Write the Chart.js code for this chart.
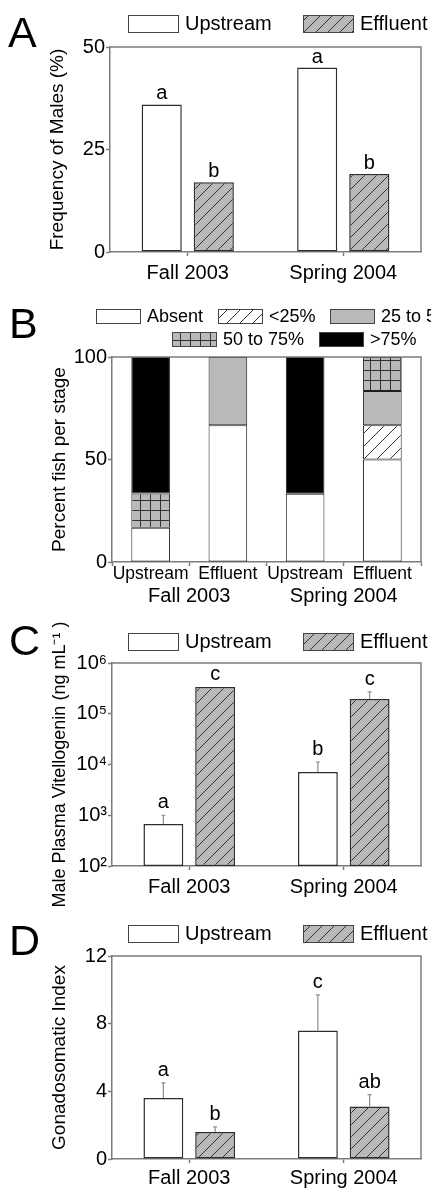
<!DOCTYPE html>
<html>
<head>
<meta charset="utf-8">
<script src="https://cdn.jsdelivr.net/npm/chart.js@4.4.1/dist/chart.umd.min.js"></script>
<style>
  html, body { margin: 0; padding: 0; background: #fff; }
  #fig { position: relative; width: 431px; height: 1194px; overflow: hidden; background: #fff; }
  #fig canvas { position: absolute; left: 0; }
</style>
</head>
<body>
<div id="fig"></div>
<script>
// ---- data ----
const seasons = ['Fall 2003', 'Spring 2004'];
const sites = ['Upstream', 'Effluent'];

// A: frequency of males (%)
const malesUpstream = [36, 45];
const malesEffluent = [17, 19];
const malesLettersUp = ['a', 'a'];
const malesLettersEff = ['b', 'b'];
const malesTicks = [0, 25, 50];

// B: percent fish per stage
const stageSites = ['Upstream', 'Effluent', 'Upstream', 'Effluent'];
const stageNames = ['Absent', '<25%', '25 to 50%', '50 to 75%', '>75%'];
const stageAbsent = [16.7, 66.7, 33.3, 50];
const stageUnder25 = [0, 0, 0, 16.7];
const stage25to50 = [0, 33.3, 0, 16.7];
const stage50to75 = [16.7, 0, 0, 16.6];
const stageOver75 = [66.6, 0, 66.7, 0];
const stageTicks = [0, 50, 100];

// C: male plasma vitellogenin (ng/mL), log axis
const vtgUpstream = [670, 7100];
const vtgUpstreamErr = [330, 4100];
const vtgEffluent = [335000, 195000];
const vtgEffluentErr = [0, 75000];
const vtgLettersUp = ['a', 'b'];
const vtgLettersEff = ['c', 'c'];
const vtgTickExponents = [2, 3, 4, 5, 6];

// D: gonadosomatic index
const gsiUpstream = [3.6, 7.6];
const gsiUpstreamErr = [0.9, 2.1];
const gsiEffluent = [1.6, 3.1];
const gsiEffluentErr = [0.3, 0.7];
const gsiLettersUp = ['a', 'c'];
const gsiLettersEff = ['b', 'ab'];
const gsiTicks = [0, 4, 8, 12];

// ---- styling ----
const FONT = '"Liberation Sans", Arial, Helvetica, sans-serif';
const AXIS = '#7c7c7c';
const EDGE = '#2e2e2e';
const GRAY = '#b9b9b9';
const ERR = '#8c8c8c';
const W = 431;
const SUP = {2: '\u00B2', 3: '\u00B3', 4: '\u2074', 5: '\u2075', 6: '\u2076'};

const fig = document.getElementById('fig');

function hatch(bg, line, size, cross) {
  const c = document.createElement('canvas');
  c.width = size; c.height = size;
  const g = c.getContext('2d');
  g.fillStyle = bg;
  g.fillRect(0, 0, size, size);
  g.strokeStyle = line;
  g.lineWidth = 1;
  g.beginPath();
  if (cross) {
    g.moveTo(0, 0.5); g.lineTo(size, 0.5);
    g.moveTo(0.5, 0); g.lineTo(0.5, size);
  } else {
    for (const k of [-size, 0, size]) { g.moveTo(k, size); g.lineTo(k + size, 0); }
  }
  g.stroke();
  return g.createPattern(c, 'repeat');
}

const effluentFill = hatch(GRAY, '#333', 12, false);
const lightHatch = hatch('#fff', '#333', 13, false);
const gridFill = hatch(GRAY, '#333', 10, true);

function addCanvas(top, height) {
  const c = document.createElement('canvas');
  c.width = W; c.height = height;
  c.style.top = top + 'px';
  c.style.width = W + 'px';
  c.style.height = height + 'px';
  fig.appendChild(c);
  return c;
}

// panel letter, legend swatches and the closed frame
function decorPlugin(p) {
  return {
    id: 'decor',
    afterDraw(chart) {
      const {ctx, chartArea: a} = chart;
      ctx.save();
      ctx.strokeStyle = AXIS;
      ctx.lineWidth = 1.5;
      ctx.beginPath();
      ctx.moveTo(a.left, a.top);
      ctx.lineTo(a.right, a.top);
      ctx.lineTo(a.right, a.bottom);
      ctx.stroke();

      ctx.fillStyle = '#000';
      ctx.font = '43px ' + FONT;
      ctx.textBaseline = 'alphabetic';
      ctx.textAlign = 'left';
      ctx.fillText(p.letter, p.letterAt[0], p.letterAt[1] - p.top);

      ctx.font = p.legendFont + 'px ' + FONT;
      ctx.textBaseline = 'middle';
      p.legend.forEach(item => {
        const ds = chart.data.datasets[item.ds];
        const y = item.y - p.top;
        ctx.fillStyle = ds.backgroundColor;
        ctx.fillRect(item.x, y, p.box[0], p.box[1]);
        ctx.strokeStyle = '#444';
        ctx.lineWidth = 1;
        ctx.strokeRect(item.x + 0.5, y + 0.5, p.box[0], p.box[1]);
        ctx.fillStyle = '#000';
        ctx.fillText(ds.label, item.x + p.box[0] + 7, y + p.box[1] / 2 + 1);
      });
      ctx.restore();
    }
  };
}

// error bars (upper half only) and significance letters
function notesPlugin(p) {
  return {
    id: 'notes',
    afterDatasetsDraw(chart) {
      if (!p.letters) return;
      const {ctx} = chart;
      const ys = chart.scales.y;
      ctx.save();
      chart.data.datasets.forEach((ds, i) => {
        const meta = chart.getDatasetMeta(i);
        meta.data.forEach((bar, j) => {
          let top = ds.data[j];
          const err = p.errors ? p.errors[i][j] : 0;
          if (err) {
            const y0 = ys.getPixelForValue(top);
            const y1 = ys.getPixelForValue(top + err);
            ctx.strokeStyle = ERR;
            ctx.lineWidth = 1.2;
            ctx.beginPath();
            ctx.moveTo(bar.x, y0);
            ctx.lineTo(bar.x, y1);
            ctx.moveTo(bar.x - 2, y1);
            ctx.lineTo(bar.x + 2, y1);
            ctx.stroke();
            top += err;
          }
          ctx.fillStyle = '#000';
          ctx.font = '20px ' + FONT;
          ctx.textAlign = 'center';
          ctx.textBaseline = 'alphabetic';
          ctx.fillText(p.letters[i][j], bar.x, ys.getPixelForValue(top) - p.gap);
        });
      });
      ctx.restore();
    }
  };
}

function yScale(p, extra) {
  const s = {
    position: 'left',
    afterFit: sc => { sc.width = p.plot.left; },
    border: {color: AXIS, width: 1.5},
    grid: {drawOnChartArea: false, tickLength: 4, tickColor: AXIS, tickWidth: 1.5},
    ticks: {color: '#000', font: {family: FONT, size: 20}, padding: 1, autoSkip: false},
    title: {display: true, text: p.yTitle, color: '#000',
            font: {family: FONT, size: p.yTitleSize}, padding: {top: p.yTitlePad, bottom: 0}}
  };
  return Object.assign(s, extra);
}

function makePanel(p) {
  const canvas = addCanvas(p.top, p.height);
  const scales = p.scales(p);
  return new Chart(canvas.getContext('2d'), {
    type: 'bar',
    data: p.data,
    options: {
      responsive: false,
      animation: false,
      layout: {padding: {top: p.plot.top - p.top, right: W - p.plot.right, bottom: p.padBottom || 0, left: 0}},
      plugins: {legend: {display: false}, tooltip: {enabled: false}},
      scales: scales
    },
    plugins: [decorPlugin(p), notesPlugin(p)]
  });
}

function barStyle(fill) {
  return {
    backgroundColor: fill, borderColor: EDGE, borderWidth: 1.5, borderSkipped: false,
    categoryPercentage: 0.67, barPercentage: 0.77
  };
}

function seasonAxis(p) {
  return {
    afterFit: sc => { sc.height = p.top + p.height - (p.padBottom || 0) - p.plot.bottom; },
    border: {color: AXIS, width: 1.5},
    grid: {offset: false, drawOnChartArea: false, tickLength: 4, tickColor: AXIS, tickWidth: 1.5},
    ticks: {color: '#000', font: {family: FONT, size: 20}, padding: p.xPad, maxRotation: 0, minRotation: 0}
  };
}

const siteLegend = (y) => [{ds: 0, x: 128, y: y}, {ds: 1, x: 303, y: y}];

// ---- A ----
makePanel({
  top: 0, height: 290, plot: {left: 110, top: 47, right: 421, bottom: 252},
  letter: 'A', letterAt: [8, 47], legendFont: 20, box: [50, 17], legend: siteLegend(15),
  yTitle: 'Frequency of Males (%)', yTitleSize: 19, yTitlePad: 46, xPad: 5,
  letters: [malesLettersUp, malesLettersEff], gap: 5,
  data: {labels: seasons, datasets: [
    Object.assign({label: sites[0], data: malesUpstream}, barStyle('#fff')),
    Object.assign({label: sites[1], data: malesEffluent}, barStyle(effluentFill))
  ]},
  scales: p => ({
    x: seasonAxis(p),
    y: yScale(p, {min: 0, max: 50, afterBuildTicks: sc => { sc.ticks = malesTicks.map(v => ({value: v})); }})
  })
});

// ---- B ----
function stageSet(label, data, fill) {
  return {label: label, data: data, backgroundColor: fill, borderColor: '#1e1e1e', borderWidth: 1,
          borderSkipped: false, categoryPercentage: 1, barPercentage: 0.5};
}
makePanel({
  top: 290, height: 320, plot: {left: 112, top: 357, right: 421, bottom: 562},
  letter: 'B', letterAt: [9, 338], legendFont: 18, box: [44, 14],
  legend: [{ds: 0, x: 96, y: 309}, {ds: 1, x: 218, y: 309}, {ds: 2, x: 330, y: 309},
           {ds: 3, x: 172, y: 332}, {ds: 4, x: 319, y: 332}],
  yTitle: 'Percent fish per stage', yTitleSize: 19, yTitlePad: 48,
  data: {labels: stageSites, datasets: [
    stageSet(stageNames[0], stageAbsent, '#fff'),
    stageSet(stageNames[1], stageUnder25, lightHatch),
    stageSet(stageNames[2], stage25to50, GRAY),
    stageSet(stageNames[3], stage50to75, gridFill),
    stageSet(stageNames[4], stageOver75, '#000')
  ]},
  scales: p => ({
    x: {
      stacked: true, weight: 0,
      afterFit: sc => { sc.height = 22; },
      border: {color: AXIS, width: 1.5},
      grid: {offset: true, drawOnChartArea: false, tickLength: 4, tickColor: AXIS, tickWidth: 1.5},
      ticks: {color: '#000', font: {family: FONT, size: 17.5, lineHeight: 1}, padding: -1,
              maxRotation: 0, minRotation: 0, autoSkip: false}
    },
    xGroup: {
      type: 'category', labels: seasons, position: 'bottom', offset: true, weight: 1,
      afterFit: sc => { sc.height = p.top + p.height - p.plot.bottom - 22; },
      border: {display: false},
      grid: {display: false, drawTicks: false},
      ticks: {color: '#000', font: {family: FONT, size: 20}, padding: 0, maxRotation: 0, minRotation: 0}
    },
    y: yScale(p, {stacked: true, min: 0, max: 100,
                  afterBuildTicks: sc => { sc.ticks = stageTicks.map(v => ({value: v})); }})
  })
});

// ---- C ----
// canvas runs past the next panel's top so the long axis title is not cut
makePanel({
  top: 600, height: 325, padBottom: 25, plot: {left: 112, top: 663, right: 421, bottom: 866},
  letter: 'C', letterAt: [9, 655], legendFont: 20, box: [50, 17], legend: siteLegend(633),
  yTitle: 'Male Plasma Vitellogenin (ng mL\u207B\u00B9 )', yTitleSize: 18, yTitlePad: 49, xPad: 5,
  letters: [vtgLettersUp, vtgLettersEff], errors: [vtgUpstreamErr, vtgEffluentErr], gap: 7,
  data: {labels: seasons, datasets: [
    Object.assign({label: sites[0], data: vtgUpstream}, barStyle('#fff')),
    Object.assign({label: sites[1], data: vtgEffluent}, barStyle(effluentFill))
  ]},
  scales: p => {
    const y = yScale(p, {type: 'logarithmic', min: 100, max: 1e6,
      afterBuildTicks: sc => { sc.ticks = vtgTickExponents.map(e => ({value: Math.pow(10, e)})); }});
    y.ticks.callback = v => '10' + SUP[Math.round(Math.log10(v))];
    return {x: seasonAxis(p), y: y};
  }
});

// ---- D ----
makePanel({
  top: 900, height: 294, plot: {left: 112, top: 956, right: 421, bottom: 1159},
  letter: 'D', letterAt: [9, 955], legendFont: 20, box: [50, 17], legend: siteLegend(925),
  yTitle: 'Gonadosomatic Index', yTitleSize: 19, yTitlePad: 48, xPad: 3,
  letters: [gsiLettersUp, gsiLettersEff], errors: [gsiUpstreamErr, gsiEffluentErr], gap: 7,
  data: {labels: seasons, datasets: [
    Object.assign({label: sites[0], data: gsiUpstream}, barStyle('#fff')),
    Object.assign({label: sites[1], data: gsiEffluent}, barStyle(effluentFill))
  ]},
  scales: p => ({
    x: seasonAxis(p),
    y: yScale(p, {min: 0, max: 12, afterBuildTicks: sc => { sc.ticks = gsiTicks.map(v => ({value: v})); }})
  })
});
</script>
</body>
</html>
